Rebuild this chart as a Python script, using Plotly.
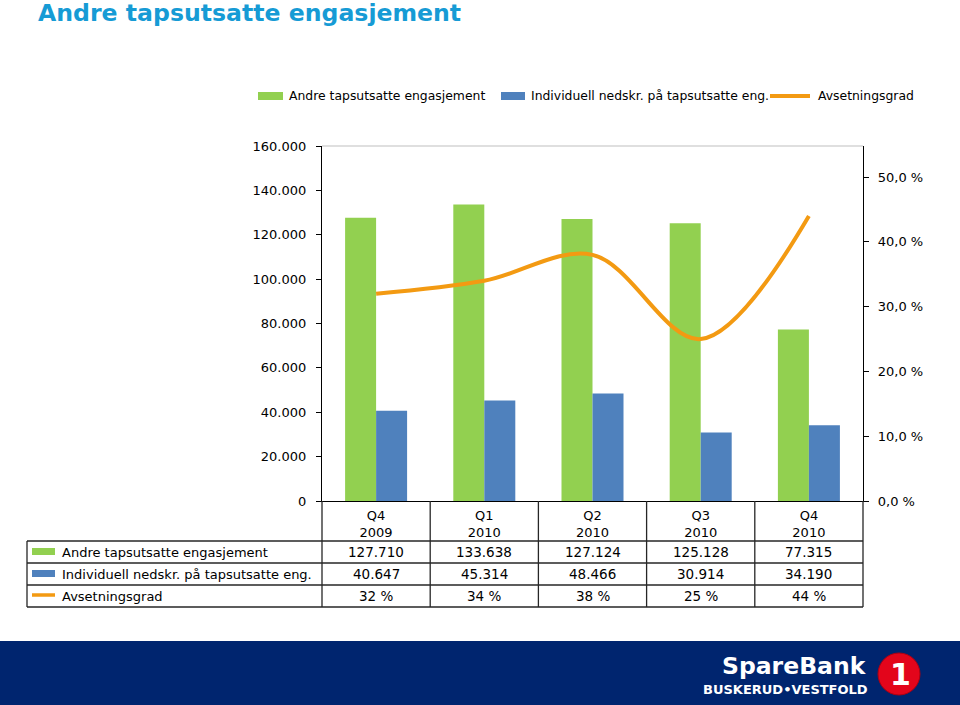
import plotly.graph_objects as go

# ---- data ----
categories = ["Q4<br>2009", "Q1<br>2010", "Q2<br>2010", "Q3<br>2010", "Q4<br>2010"]
andre = [127710, 133638, 127124, 125128, 77315]
individuell = [40647, 45314, 48466, 30914, 34190]
avsetning = [0.32, 0.34, 0.38, 0.25, 0.44]
andre_txt = ["127.710", "133.638", "127.124", "125.128", "77.315"]
indiv_txt = ["40.647", "45.314", "48.466", "30.914", "34.190"]
avs_txt = ["32 %", "34 %", "38 %", "25 %", "44 %"]
left_ticks = [0, 20000, 40000, 60000, 80000, 100000, 120000, 140000, 160000]
left_ticktext = ["0", "20.000", "40.000", "60.000", "80.000", "100.000", "120.000", "140.000", "160.000"]
right_ticks = [0, 0.1, 0.2, 0.3, 0.4, 0.5]
right_ticktext = ["0,0 %", "10,0 %", "20,0 %", "30,0 %", "40,0 %", "50,0 %"]
series_names = ["Andre tapsutsatte engasjement", "Individuell nedskr. på tapsutsatte eng.", "Avsetningsgrad"]

GREEN = "#92D050"
BLUE = "#4F81BD"
ORANGE = "#F39A12"
NAVY = "#00256F"
FONT = "DejaVu Sans"

W, H = 960, 705
L, R, T, B = 322, 863, 146, 501


def px(x):
    return (x - L) / (R - L)


def py(y):
    return (B - y) / (B - T)


fig = go.Figure()
fig.add_trace(go.Bar(x=categories, y=andre, name=series_names[0], marker=dict(color=GREEN, line=dict(width=0))))
fig.add_trace(go.Bar(x=categories, y=individuell, name=series_names[1], marker=dict(color=BLUE, line=dict(width=0))))
fig.add_trace(go.Scatter(x=categories, y=avsetning, name=series_names[2], yaxis="y2", mode="lines",
                         line=dict(color=ORANGE, width=4, shape="spline", smoothing=1.0)))

shapes = []
annotations = []

# title
annotations.append(dict(text="<b>Andre tapsutsatte engasjement</b>", xref="paper", yref="paper",
                        x=px(37), y=py(13), xanchor="left", yanchor="middle", showarrow=False,
                        borderpad=0, font=dict(family=FONT, size=23.6, color="#169BD5")))

# custom legend
leg_y = 96
leg_items = [(258, 283, 287, "bar", GREEN, series_names[0]),
             (501, 525, 529, "bar", BLUE, series_names[1]),
             (770, 810, 816, "line", ORANGE, series_names[2])]
for x0, x1, tx, kind, col, name in leg_items:
    if kind == "bar":
        shapes.append(dict(type="rect", xref="paper", yref="paper", x0=px(x0), x1=px(x1),
                           y0=py(leg_y + 4), y1=py(leg_y - 4), fillcolor=col, line=dict(width=0)))
    else:
        shapes.append(dict(type="line", xref="paper", yref="paper", x0=px(x0), x1=px(x1),
                           y0=py(leg_y), y1=py(leg_y), line=dict(color=col, width=4)))
    annotations.append(dict(text=name, xref="paper", yref="paper", x=px(tx), y=py(leg_y),
                            xanchor="left", yanchor="middle", showarrow=False,
                            font=dict(family=FONT, size=12.4, color="#000000")))

# top gray border of plot area
shapes.append(dict(type="line", xref="paper", yref="paper", x0=0, x1=1, y0=1, y1=1,
                   line=dict(color="#BFBFBF", width=1)))

# data table
TL = 27
row_lines = [541, 563, 585, 607]
bc = "#262626"
for yy in row_lines:
    shapes.append(dict(type="line", xref="paper", yref="paper", x0=px(TL), x1=1, y0=py(yy), y1=py(yy),
                       line=dict(color=bc, width=1.3)))
for i in range(6):
    shapes.append(dict(type="line", xref="paper", yref="paper", x0=i / 5, x1=i / 5, y0=py(B), y1=py(607),
                       line=dict(color=bc, width=1.3)))
shapes.append(dict(type="line", xref="paper", yref="paper", x0=px(TL), x1=px(TL), y0=py(541), y1=py(607),
                   line=dict(color=bc, width=1.3)))

row_centers = [552, 574, 596]
row_vals = [andre_txt, indiv_txt, avs_txt]
row_cols = [GREEN, BLUE, ORANGE]
for r, (yc, vals, col) in enumerate(zip(row_centers, row_vals, row_cols)):
    if r < 2:
        shapes.append(dict(type="rect", xref="paper", yref="paper", x0=px(32), x1=px(55),
                           y0=py(yc + 3), y1=py(yc - 4), fillcolor=col, line=dict(width=0)))
    else:
        shapes.append(dict(type="line", xref="paper", yref="paper", x0=px(32), x1=px(55),
                           y0=py(yc - 1), y1=py(yc - 1), line=dict(color=col, width=3.5)))
    annotations.append(dict(text=series_names[r], xref="paper", yref="paper", x=px(60), y=py(yc),
                            xanchor="left", yanchor="middle", showarrow=False,
                            font=dict(family=FONT, size=13, color="#000000")))
    for i, v in enumerate(vals):
        annotations.append(dict(text=v, xref="paper", yref="paper", x=(i + 0.5) / 5, y=py(yc),
                                xanchor="center", yanchor="middle", showarrow=False,
                                font=dict(family=FONT, size=13.5, color="#000000")))

# footer band and logo
shapes.append(dict(type="rect", xref="paper", yref="paper", x0=px(-2), x1=px(W + 2), y0=py(641), y1=py(H + 2),
                   fillcolor=NAVY, line=dict(width=0), layer="below"))
annotations.append(dict(text="<b>SpareBank</b>", xref="paper", yref="paper", x=px(869), y=py(666),
                        xanchor="right", yanchor="middle", showarrow=False,
                        font=dict(family="DejaVu Sans", size=23.5, color="#FFFFFF")))
annotations.append(dict(text="<b>BUSKERUD•VESTFOLD</b>", xref="paper", yref="paper", x=px(870), y=py(689),
                        xanchor="right", yanchor="middle", showarrow=False,
                        font=dict(family="DejaVu Sans", size=13, color="#FFFFFF")))
shapes.append(dict(type="circle", xref="paper", yref="paper", x0=px(878), x1=px(920), y0=py(695), y1=py(653),
                   fillcolor="#E3051B", line=dict(color="#B00010", width=1)))
annotations.append(dict(text="<b>1</b>", xref="paper", yref="paper", x=px(900), y=py(674),
                        xanchor="center", yanchor="middle", showarrow=False,
                        font=dict(family="DejaVu Sans", size=30, color="#FFFFFF")))

fig.update_layout(
    width=W, height=H,
    margin=dict(l=L, r=W - R, t=T, b=H - B, pad=0),
    paper_bgcolor="#FFFFFF", plot_bgcolor="#FFFFFF",
    barmode="group", bargap=0.427, bargroupgap=0,
    showlegend=False,
    font=dict(family=FONT, size=13, color="#000000"),
    xaxis=dict(type="category", showgrid=False, showline=True, linecolor="#000000", linewidth=1.3,
               ticks="", tickfont=dict(family=FONT, size=13, color="#000000"), range=[-0.5, 4.5],
               ticklabelstandoff=2),
    yaxis=dict(range=[0, 160000], tickvals=left_ticks, ticktext=left_ticktext, showgrid=False,
               showline=True, linecolor="#000000", linewidth=1.3, ticks="outside", ticklen=5,
               tickcolor="#000000", tickfont=dict(family=FONT, size=13, color="#000000"),
               ticklabelstandoff=7, zeroline=False),
    yaxis2=dict(range=[0, 0.548], overlaying="y", side="right", tickvals=right_ticks, ticktext=right_ticktext,
                showgrid=False, showline=True, linecolor="#000000", linewidth=1.3, ticks="outside", ticklen=5,
                tickcolor="#000000", tickfont=dict(family=FONT, size=13, color="#000000"),
                ticklabelstandoff=6, zeroline=False),
    shapes=shapes,
    annotations=annotations,
)

fig.write_html("out.html", config={"displayModeBar": False},
               post_script="document.body.style.margin='0';document.body.style.overflow='hidden';")
